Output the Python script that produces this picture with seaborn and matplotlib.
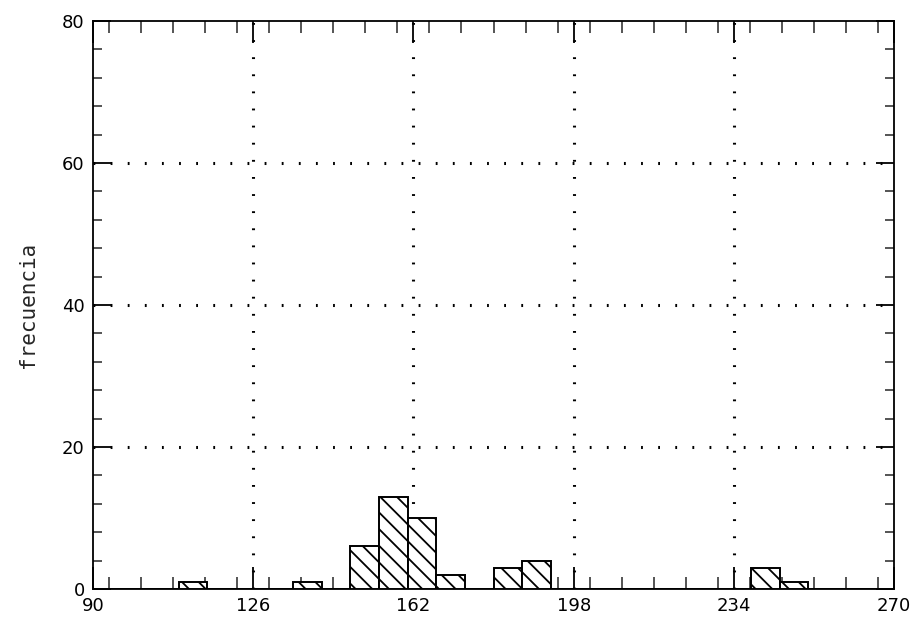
import numpy as np
import pandas as pd
import matplotlib
matplotlib.use("Agg")
import matplotlib.pyplot as plt
from matplotlib.ticker import MultipleLocator
import seaborn as sns

# Histogram layout: 28 equal classes spanning 90..270
range_start = 90
range_end = 270
n_classes = 28

# Class index (0-based) of each non-empty class and its frequency
class_index = [3, 7, 9, 10, 11, 12, 14, 15, 23, 24]
frequency = [1, 1, 6, 13, 10, 2, 3, 4, 3, 1]

x_ticks = [90, 126, 162, 198, 234, 270]
y_ticks = [0, 20, 40, 60, 80]

width = (range_end - range_start) / n_classes
centers = [range_start + (i + 0.5) * width for i in class_index]
df = pd.DataFrame({"valor": centers, "frecuencia": frequency})

sns.set_style("ticks")
plt.rcParams["font.family"] = ["DejaVu Sans"]
plt.rcParams["hatch.linewidth"] = 1.3
plt.rcParams["hatch.color"] = "black"

fig = plt.figure(figsize=(9.17, 6.23), dpi=100)
ax = fig.add_axes([0.1014, 0.0546, 0.8736, 0.9117])

sns.histplot(data=df, x="valor", weights="frecuencia", bins=n_classes,
             binrange=(range_start, range_end), ax=ax,
             color="white", edgecolor="black", linewidth=1.4, hatch="\\\\",
             alpha=1.0, zorder=3)

ax.set_xlim(range_start, range_end)
ax.set_ylim(y_ticks[0], y_ticks[-1])
ax.set_xticks(x_ticks)
ax.set_yticks(y_ticks)
ax.xaxis.set_minor_locator(MultipleLocator(7.2))
ax.yaxis.set_minor_locator(MultipleLocator(4))
ax.set_xticklabels([str(v) for v in x_ticks])
ax.set_yticklabels([str(v) for v in y_ticks])

# dotted grid on the inner major ticks only
ax.grid(which="major", color="black", linewidth=2.2,
        linestyle=(0, (0.6, 5.0)), zorder=1)
for axis in (ax.xaxis, ax.yaxis):
    ticks = axis.get_major_ticks()
    ticks[0].gridline.set_visible(False)
    ticks[-1].gridline.set_visible(False)

for s in ax.spines.values():
    s.set_visible(True)
    s.set_linewidth(1.3)
    s.set_color("black")

ax.tick_params(axis="x", which="major", direction="in", length=16, width=1.3,
               top=True, bottom=True, labelsize=13, pad=6, colors="black")
ax.tick_params(axis="x", which="minor", direction="in", length=8.5, width=1.1,
               top=True, bottom=True)
ax.tick_params(axis="y", which="major", direction="in", length=13, width=1.3,
               left=True, right=True, labelsize=13, pad=6, colors="black")
ax.tick_params(axis="y", which="minor", direction="in", length=6.5, width=1.1,
               left=True, right=True)

ax.set_xlabel("")
ax.set_ylabel("frecuencia", family="DejaVu Sans Mono", fontsize=15, labelpad=17)

fig.savefig("out.png", dpi=100, facecolor="white")
